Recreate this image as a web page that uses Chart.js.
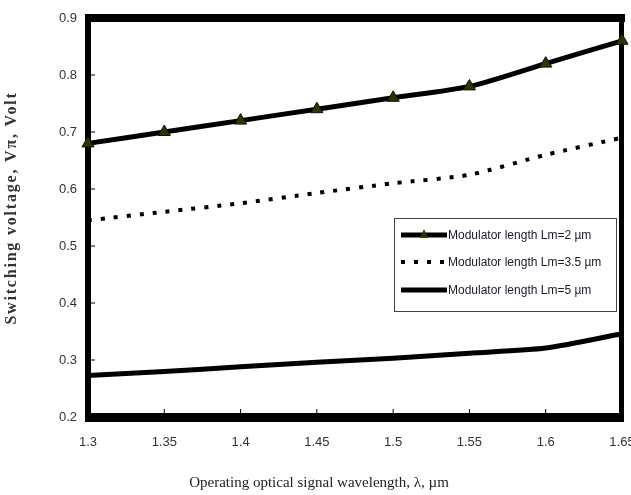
<!DOCTYPE html>
<html>
<head>
<meta charset="utf-8">
<script src="https://cdn.jsdelivr.net/npm/chart.js@4"></script>
<style>
  html, body { margin: 0; padding: 0; background: #fff; }
  #wrap { width: 631px; height: 495px; position: relative; }
</style>
</head>
<body>
<div id="wrap"><canvas id="chart" width="631" height="495"></canvas></div>
<script>
// Data
const wavelengths = ['1.3', '1.35', '1.4', '1.45', '1.5', '1.55', '1.6', '1.65'];
const lm2 = [0.68, 0.70, 0.72, 0.74, 0.76, 0.78, 0.82, 0.86];
const lm35 = [0.545, 0.56, 0.575, 0.593, 0.61, 0.625, 0.66, 0.69];
const lm5 = [0.273, 0.28, 0.288, 0.296, 0.303, 0.312, 0.321, 0.346];
const seriesNames = ['Modulator length Lm=2 µm', 'Modulator length Lm=3.5 µm', 'Modulator length Lm=5 µm'];
const xTitle = 'Operating optical signal wavelength, λ, µm';
const yTitle = 'Switching voltage, Vπ, Volt';

const sansFamily = '"Liberation Sans", Arial, sans-serif';
const serifFamily = '"Liberation Serif", "Times New Roman", serif';
const tickFont = { family: sansFamily, size: 13 };

// Thick frame round the plot plus inward tick marks
const framePlugin = {
  id: 'frame',
  beforeDatasetsDraw(chart) {
    const { ctx, chartArea: a, scales } = chart;
    ctx.save();
    ctx.strokeStyle = '#000';
    ctx.lineWidth = 1;
    // inward ticks
    ctx.beginPath();
    wavelengths.forEach((w, i) => {
      const x = scales.x.getPixelForValue(i);
      ctx.moveTo(x, a.bottom);
      ctx.lineTo(x, a.bottom - 8);
    });
    scales.y.ticks.forEach(t => {
      const y = scales.y.getPixelForValue(t.value);
      ctx.moveTo(a.left, y);
      ctx.lineTo(a.left + 7, y);
    });
    ctx.stroke();
    ctx.fillStyle = '#000';
    ctx.fillRect(a.left - 3, a.top - 4, 6, a.bottom - a.top + 8);       // left
    ctx.fillRect(a.left - 3, a.top - 4, a.right - a.left + 6, 8);       // top
    ctx.fillRect(a.right - 3, a.top - 4, 5, a.bottom - a.top + 8);      // right
    ctx.fillRect(a.left - 3, a.bottom - 4, a.right - a.left + 5, 9);    // bottom
    ctx.restore();
  }
};

// Axis titles, placed like the original
const titlePlugin = {
  id: 'axisTitles',
  afterDraw(chart) {
    const { ctx } = chart;
    ctx.save();
    ctx.fillStyle = '#222';
    ctx.textAlign = 'center';
    ctx.textBaseline = 'middle';
    ctx.font = '15px ' + serifFamily;
    ctx.fillText(xTitle, 319, 483);
    ctx.translate(12, 208);
    ctx.rotate(-Math.PI / 2);
    ctx.fillStyle = '#333';
    ctx.font = 'bold 16px ' + serifFamily;
    ctx.letterSpacing = '1.8px';
    ctx.fillText(yTitle, 0, 0);
    ctx.restore();
  }
};

// Legend box inside the plot
const legendPlugin = {
  id: 'boxLegend',
  afterDatasetsDraw(chart) {
    const { ctx } = chart;
    const bx = 394, by = 218, bw = 222, bh = 93;
    ctx.save();
    ctx.fillStyle = '#fff';
    ctx.fillRect(bx, by, bw, bh);
    ctx.strokeStyle = '#444';
    ctx.lineWidth = 1;
    ctx.strokeRect(bx + 0.5, by + 0.5, bw, bh);
    const rows = [235, 262, 290];
    const x0 = 401, x1 = 447;
    chart.data.datasets.forEach((ds, i) => {
      const y = rows[i];
      ctx.strokeStyle = '#000';
      ctx.lineWidth = ds.borderWidth;
      ctx.setLineDash(ds.borderDash || []);
      ctx.lineCap = 'butt';
      ctx.beginPath();
      ctx.moveTo(x0, y);
      ctx.lineTo(x1, y);
      ctx.stroke();
      ctx.setLineDash([]);
      if (ds.pointStyle === 'triangle') {
        const cx = (x0 + x1) / 2;
        ctx.fillStyle = '#333300';
        ctx.beginPath();
        ctx.moveTo(cx, y - 6);
        ctx.lineTo(cx + 4, y + 3);
        ctx.lineTo(cx - 4, y + 3);
        ctx.closePath();
        ctx.fill();
      }
      ctx.fillStyle = '#1a1a2a';
      ctx.font = '12px ' + sansFamily;
      ctx.textBaseline = 'middle';
      ctx.fillText(seriesNames[i], 448, y + 1);
    });
    ctx.restore();
  }
};

new Chart(document.getElementById('chart'), {
  type: 'line',
  data: {
    labels: wavelengths,
    datasets: [
      {
        label: seriesNames[0],
        data: lm2,
        borderColor: '#000',
        borderWidth: 5,
        tension: 0.25,
        pointStyle: 'triangle',
        pointRadius: 7,
        pointBackgroundColor: '#333300',
        pointBorderColor: '#111100',
        pointBorderWidth: 1
      },
      {
        label: seriesNames[1],
        data: lm35,
        borderColor: '#000',
        borderWidth: 4,
        borderDash: [4, 9],
        tension: 0.25,
        pointRadius: 0
      },
      {
        label: seriesNames[2],
        data: lm5,
        borderColor: '#000',
        borderWidth: 5,
        tension: 0.25,
        pointRadius: 0
      }
    ]
  },
  options: {
    responsive: false,
    animation: false,
    devicePixelRatio: 1,
    layout: { padding: { top: 18, right: 9, left: 0, bottom: 0 } },
    plugins: {
      legend: { display: false },
      tooltip: { enabled: false }
    },
    scales: {
      x: {
        type: 'category',
        offset: false,
        grid: { display: false, drawTicks: false },
        border: { display: false },
        ticks: { font: tickFont, color: '#333', padding: 18, maxRotation: 0, autoSkip: false },
        afterFit(scale) {
          scale.height = 78;
          scale.paddingLeft = 0;
          scale.paddingRight = 0;
        }
      },
      y: {
        min: 0.2,
        max: 0.9,
        grid: { display: false, drawTicks: false },
        border: { display: false },
        ticks: {
          stepSize: 0.1,
          font: tickFont,
          color: '#333',
          padding: 11,
          callback: v => v.toFixed(1)
        },
        afterFit(scale) {
          scale.width = 88;
          scale.paddingTop = 0;
          scale.paddingBottom = 0;
        }
      }
    }
  },
  plugins: [framePlugin, legendPlugin, titlePlugin]
});
</script>
</body>
</html>
